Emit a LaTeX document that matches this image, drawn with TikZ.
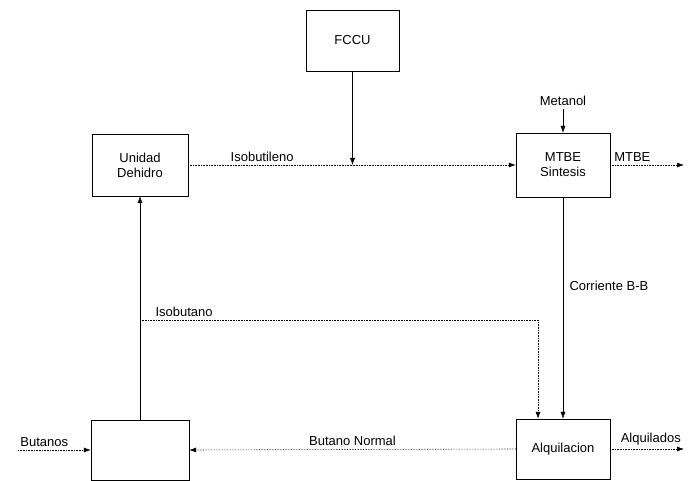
\documentclass[tikz,border=0pt]{standalone}
\usepackage{fontspec}
\setmainfont{Liberation Sans}
\usetikzlibrary{arrows.meta}
\tikzset{
  unidad/.style={draw, thin, minimum width=96pt, minimum height=62pt, align=center, inner sep=1pt},
  flujo/.style={thin, -{Latex[length=7pt,width=5pt]}},
  plano/.style={densely dotted, semithick},
}
\begin{document}
\begin{tikzpicture}[x=1pt,y=-1pt,font=\fontsize{13}{15}\selectfont]
\useasboundingbox (0,0) rectangle (689,481);
% unidades
\node[unidad, minimum width=93pt, minimum height=61pt] (fccu) at (352.5,40.5) {FCCU};
\node[unidad] (dehidro) at (140,165) {Unidad\\Dehidro};
\node[unidad, minimum width=94pt, minimum height=64pt] (sintesis) at (563,165) {MTBE\\Sintesis};
\node[unidad, minimum width=98pt, minimum height=60pt] (abajo) at (140,450) {};
\node[unidad, minimum width=94pt, minimum height=60pt] (alqu) at (563,449) {Alquilacion};
\node (metanol) at (563,101) {Metanol};
% puntos libres
\coordinate (junta) at (fccu.south |- dehidro.east);
\coordinate (mtbefin) at (684,165);
\coordinate (alqfin) at (684,449);
\coordinate (butini) at (18,450);
\coordinate (isoini) at (140,320);
% corrientes
\draw[plano] (dehidro.east) -- node[pos=0.45, above] {Isobutileno} (junta);
\draw[plano, -{Latex[length=7pt,width=5pt]}] (junta) -- (sintesis.west);
\draw[flujo] (fccu.south) -- (junta);
\draw[flujo] (metanol.south) -- (sintesis.north);
\draw[plano, -{Latex[length=7pt,width=5pt]}] (sintesis.east) -- node[pos=0.3, above] {MTBE} (mtbefin);
\draw[flujo] (sintesis.south) -- node[pos=0.4, right=3pt] {Corriente B-B} (alqu.north);
\draw[flujo] (abajo.north) -- (dehidro.south);
\draw[plano, -{Latex[length=7pt,width=5pt]}] (isoini) -| ([xshift=-25pt]alqu.north);
\node[anchor=south west] at (isoini) [xshift=12pt] {Isobutano};
\draw[plano, -{Latex[length=7pt,width=5pt]}] (alqu.west) -- node[above] {Butano Normal} (abajo.east);
\draw[plano, -{Latex[length=7pt,width=5pt]}] (butini) -- node[pos=0.36, above] {Butanos} (abajo.west);
\draw[plano, -{Latex[length=7pt,width=5pt]}] (alqu.east) -- node[pos=0.55, above] {Alquilados} (alqfin);
\end{tikzpicture}
\end{document}
